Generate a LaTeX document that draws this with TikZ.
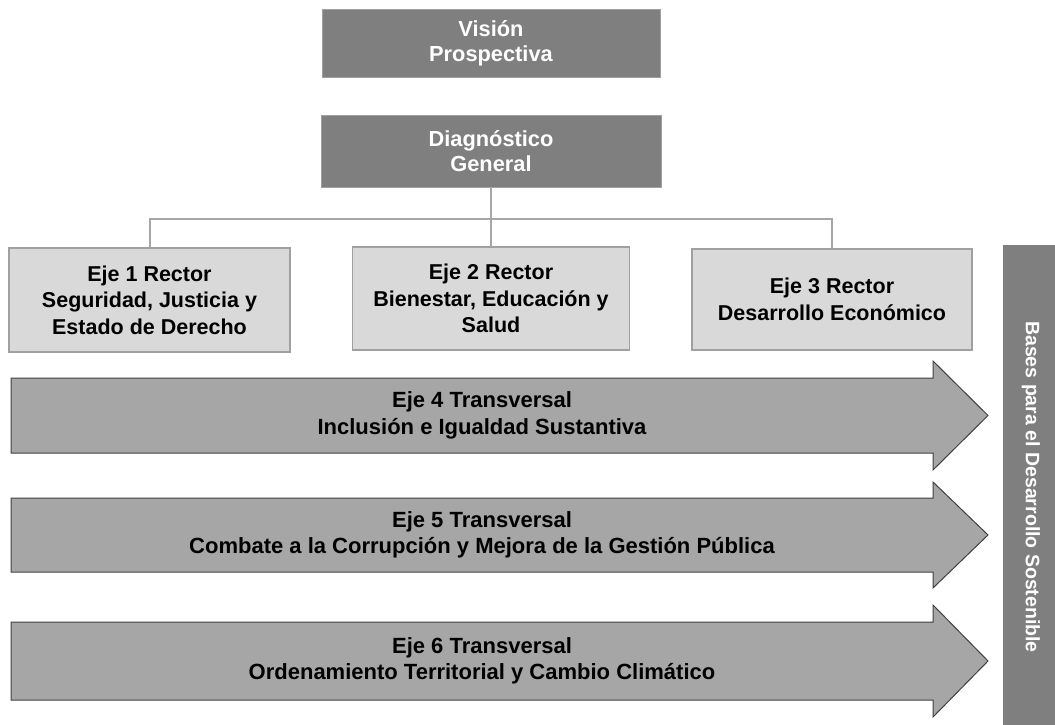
\documentclass[tikz,border=0pt]{standalone}
\usepackage{fontspec}
\setmainfont{Liberation Sans}
\definecolor{darkbox}{HTML}{7F7F7F}
\definecolor{lightbox}{HTML}{D9D9D9}
\definecolor{lightedge}{HTML}{A0A0A0}
\definecolor{arrowfill}{HTML}{A6A6A6}
\definecolor{arrowedge}{HTML}{404040}
\definecolor{connc}{HTML}{A6A6A6}
\tikzset{
  topbox/.style={fill=darkbox, draw=lightedge, line width=0.8pt, text=white,
    font=\fontsize{21.8}{25}\selectfont\bfseries, align=center, inner sep=0pt},
  rectorbox/.style={fill=lightbox, draw=lightedge, line width=1.2pt, text=black,
    font=\fontsize{21.5}{26.5}\selectfont\bfseries, align=center, inner sep=0pt},
  transarrow/.style={fill=arrowfill, draw=arrowedge, line width=1pt, line join=miter},
  arrowtext/.style={font=\fontsize{22}{26.5}\selectfont\bfseries, align=center, text=black},
  conn/.style={draw=connc, line width=2pt},
  basebar/.style={fill=darkbox, draw=none, text=white, inner sep=0pt,
    font=\fontsize{19.5}{22}\selectfont\bfseries},
}
\begin{document}
\begin{tikzpicture}[x=1pt,y=-1pt]
\useasboundingbox (0,0) rectangle (1055,725);
% top boxes
\node[topbox, minimum width=338pt, minimum height=68pt] (vision) at (491,43) {Visión\\Prospectiva};
\node[topbox, minimum width=340pt, minimum height=72pt] (diag) at (491,151) {Diagnóstico\\General};
% rector boxes
\node[rectorbox, minimum width=281pt, minimum height=104pt] (e1) at (149.5,300) {Eje 1 Rector\\Seguridad, Justicia y\\Estado de Derecho};
\node[rectorbox, minimum width=277pt, minimum height=103pt] (e2) at (491,298.5) {Eje 2 Rector\\Bienestar, Educación y\\Salud};
\node[rectorbox, minimum width=280pt, minimum height=101pt] (e3) at (832,299.5) {Eje 3 Rector\\Desarrollo Económico};
% connectors
\coordinate (bus) at (491,219);
\draw[conn] (e1.north) |- (bus) -| (e3.north);
\draw[conn] (diag.south) -- (e2.north);
% transversal arrows
\draw[transarrow] (11,378) -- (933,378) -- (933,361) -- (988,415.5) -- (933,470) -- (933,453) -- (11,453) -- cycle;
\node[arrowtext] (e4) at (482,415.5) {Eje 4 Transversal\\Inclusión e Igualdad Sustantiva};
\draw[transarrow] (11,498) -- (933,498) -- (933,482) -- (988,535) -- (933,588) -- (933,572) -- (11,572) -- cycle;
\node[arrowtext] (e5) at (482,535) {Eje 5 Transversal\\Combate a la Corrupción y Mejora de la Gestión Pública};
\draw[transarrow] (11,622) -- (933,622) -- (933,605) -- (988,661) -- (933,717) -- (933,700) -- (11,700) -- cycle;
\node[arrowtext] (e6) at (482,661) {Eje 6 Transversal\\Ordenamiento Territorial y Cambio Climático};
% side bar
\node[basebar, rotate=-90, minimum width=480pt, minimum height=52pt] (bases) at (1029,485) {};
\node[text=white, rotate=-90, inner sep=0pt, font=\fontsize{19.5}{22}\selectfont\bfseries] (basestext) at (1031,487) {Bases para el Desarrollo Sostenible};
\end{tikzpicture}
\end{document}
